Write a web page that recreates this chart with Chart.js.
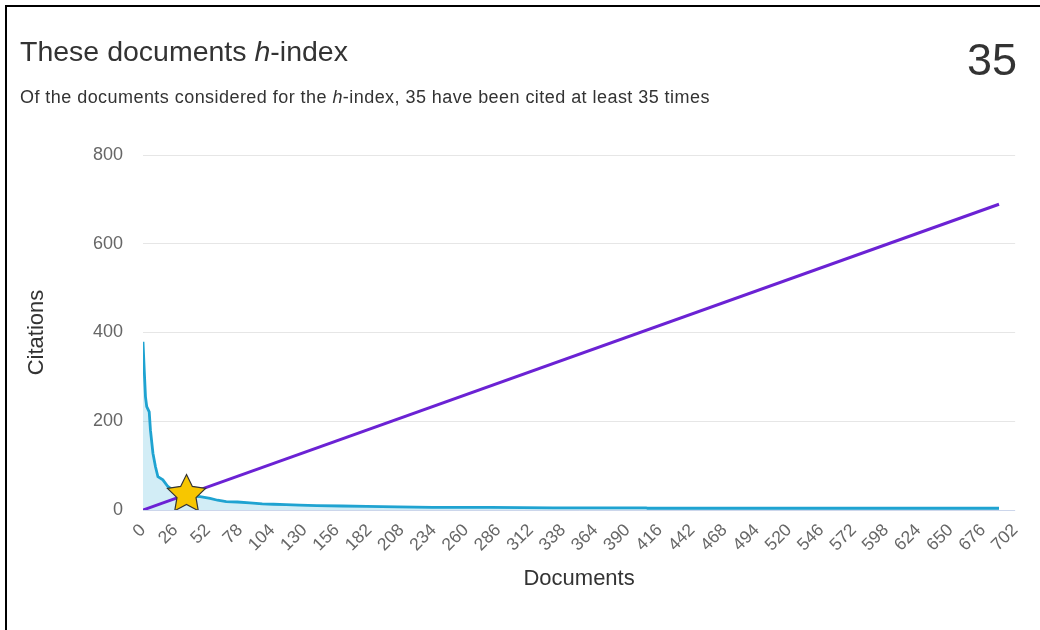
<!DOCTYPE html>
<html>
<head>
<meta charset="utf-8">
<script src="https://cdn.jsdelivr.net/npm/chart.js@4"></script>
<style>
  html, body { margin: 0; padding: 0; background: #fff; }
  body { width: 1040px; height: 630px; position: relative; overflow: hidden; font-family: "Liberation Sans", Arial, sans-serif; }
  #frame { position: absolute; left: 5px; top: 5px; width: 1100px; height: 700px; border: 2px solid #000; }
  #chartBox { position: absolute; left: 0; top: 0; width: 1040px; height: 630px; }
  .txt { position: absolute; color: #333; white-space: nowrap; line-height: 1; }
  #title { left: 20px; top: 37px; font-size: 28.5px; }
  #sub { left: 20px; top: 88px; font-size: 18px; letter-spacing: 0.45px; }
  #hval { right: 23px; top: 37px; font-size: 45px; }
</style>
</head>
<body>
<div id="chartBox"><canvas id="hChart" width="1040" height="630"></canvas></div>
<div id="frame"></div>
<div class="txt" id="title">These documents <i>h</i>-index</div>
<div class="txt" id="sub">Of the documents considered for the <i>h</i>-index, 35 have been cited at least 35 times</div>
<div class="txt" id="hval">35</div>
<script>
/*dados*/
const docRank = [0, 1, 2, 3, 5, 6, 8, 10, 12, 16, 20, 26, 32, 36, 40, 46, 54, 60, 67, 76, 86, 96, 105, 115, 126, 140, 160, 180, 205, 233, 280, 330, 405, 406, 689];
const citations = [379, 315, 255, 233, 221, 180, 128, 98, 75, 68, 53, 41, 36, 33, 31, 30, 26, 22, 19, 18, 16, 14, 13, 12, 11, 10, 9, 8, 7, 6, 6, 5, 5, 4, 4];
const hLineX = [0, 689];
const hLineY = [0, 689];
const hIndex = 35;
const xTickValues = [0, 26, 52, 78, 104, 130, 156, 182, 208, 234, 260, 286, 312, 338, 364, 390, 416, 442, 468, 494, 520, 546, 572, 598, 624, 650, 676, 702];
const yTickValues = [0, 200, 400, 600, 800];

/*estrela do h-index*/
function makeStar(size) {
  const c = document.createElement('canvas');
  c.width = size;
  c.height = size;
  const g = c.getContext('2d');
  const R = size / 2 - 1.5;
  const r = R * 0.5;
  g.beginPath();
  for (let i = 0; i < 10; i++) {
    const rad = i % 2 === 0 ? R : r;
    const a = -Math.PI / 2 + i * Math.PI / 5;
    const px = size / 2 + rad * Math.cos(a);
    const py = size / 2 + rad * Math.sin(a);
    if (i === 0) g.moveTo(px, py); else g.lineTo(px, py);
  }
  g.closePath();
  g.fillStyle = '#f7c600';
  g.fill();
  g.lineWidth = 1.2;
  g.strokeStyle = '#333';
  g.stroke();
  return c;
}

const tickFont = { family: '"Liberation Sans", Arial, sans-serif', size: 17.5 };
const titleFont = { family: '"Liberation Sans", Arial, sans-serif', size: 22 };

const dataH = {
  datasets: [{
    label: 'h-index',
    data: [{ x: hIndex, y: hIndex }],
    showLine: false,
    pointStyle: makeStar(43),
    pointRadius: 20
  }, {
    label: 'h line',
    data: hLineX.map((v, i) => ({ x: v, y: hLineY[i] })),
    borderColor: '#6b22d4',
    borderWidth: 3,
    pointRadius: 0,
    fill: false
  }, {
    label: 'Citations',
    data: docRank.map((v, i) => ({ x: v, y: citations[i] })),
    borderColor: '#1fa3d1',
    backgroundColor: 'rgba(31, 163, 209, 0.2)',
    borderWidth: 2.8,
    pointRadius: 0,
    fill: 'origin'
  }]
};

const configH = {
  type: 'line',
  data: dataH,
  options: {
    responsive: false,
    animation: false,
    layout: { padding: { left: 0, top: 155, right: 24, bottom: 0 } },
    plugins: {
      legend: { display: false },
      tooltip: { enabled: false }
    },
    scales: {
      x: {
        type: 'linear',
        min: 0,
        max: 702,
        afterFit: (scale) => { scale.height = 120; },
        afterBuildTicks: (scale) => { scale.ticks = xTickValues.map(v => ({ value: v })); },
        grid: { display: false, drawTicks: false },
        border: { display: false },
        ticks: {
          autoSkip: false,
          minRotation: 45,
          maxRotation: 45,
          padding: 10,
          color: '#666',
          font: tickFont
        },
        title: {
          display: true,
          text: 'Documents',
          color: '#333',
          font: titleFont,
          padding: { top: 0, bottom: 38 }
        }
      },
      y: {
        min: 0,
        max: 800,
        afterFit: (scale) => { scale.width = 143; },
        afterBuildTicks: (scale) => { scale.ticks = yTickValues.map(v => ({ value: v })); },
        grid: {
          drawTicks: false,
          color: (ctx) => ctx.tick && ctx.tick.value === 0 ? '#ccd6eb' : '#e6e6e6'
        },
        border: { display: false },
        ticks: {
          padding: 20,
          color: '#666',
          font: { family: '"Liberation Sans", Arial, sans-serif', size: 18 }
        },
        title: {
          display: true,
          text: 'Citations',
          color: '#333',
          font: titleFont,
          padding: { top: 24, bottom: 0 }
        }
      }
    }
  }
};

const hChart = new Chart(
  document.getElementById('hChart'),
  configH
);
</script>
</body>
</html>
